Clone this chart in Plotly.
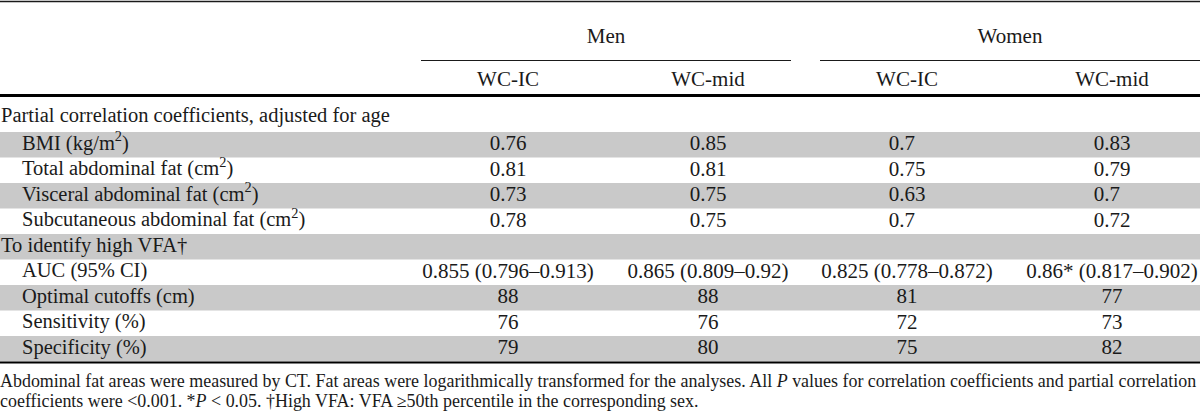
import plotly.graph_objects as go

# table content
groups = ["Men", "Women"]
subcols = ["WC-IC", "WC-mid", "WC-IC", "WC-mid"]

row_labels = [
    "Partial correlation coefficients, adjusted for age",
    "BMI (kg/m<sup>2</sup>)",
    "Total abdominal fat (cm<sup>2</sup>)",
    "Visceral abdominal fat (cm<sup>2</sup>)",
    "Subcutaneous abdominal fat (cm<sup>2</sup>)",
    "To identify high VFA†",
    "AUC (95% CI)",
    "Optimal cutoffs (cm)",
    "Sensitivity (%)",
    "Specificity (%)",
]
is_group = [True, False, False, False, False, True, False, False, False, False]
shaded = [False, True, False, True, False, True, False, True, False, True]

men_ic = ["", "0.76", "0.81", "0.73", "0.78", "", "0.855 (0.796–0.913)", "88", "76", "79"]
men_mid = ["", "0.85", "0.81", "0.75", "0.75", "", "0.865 (0.809–0.92)", "88", "76", "80"]
women_ic = ["", "0.7", "0.75", "0.63", "0.7", "", "0.825 (0.778–0.872)", "81", "72", "75"]
women_mid = ["", "0.83", "0.79", "0.7", "0.72", "", "0.86* (0.817–0.902)", "77", "73", "82"]

footnote = [
    "Abdominal fat areas were measured by CT. Fat areas were logarithmically transformed for the analyses. "
    "All <i>P</i> values for correlation coefficients and partial correlation",
    "coefficients were &lt;0.001. *<i>P</i> &lt; 0.05. †High VFA: VFA ≥50th percentile in the corresponding sex.",
]

W, H = 1200, 419
FONT = "Liberation Serif"
INK = "#1a1a1a"
GRAY = "#c9c9c9"

col_x = [508, 708, 907, 1112]
group_span = [(421, 791), (820, 1200)]
first_row = 132
row_h = 25.5
indent = 22


def pad(v):
    # short decimals sit left-aligned with the two-digit ones
    if len(v) == 3 and v.startswith("0."):
        return v + "\u2007"
    return v


def text_trace(xs, ys, texts, size, pos="middle center"):
    return go.Scatter(x=xs, y=ys, text=texts, mode="text", textposition=pos,
                      textfont=dict(family=FONT, size=size, color=INK), hoverinfo="skip")


fig = go.Figure()

shapes = []
# top rule
shapes.append(dict(type="line", x0=0, x1=W, y0=1.5, y1=1.5, line=dict(color=INK, width=1.5)))
for x0, x1 in group_span:
    shapes.append(dict(type="line", x0=x0, x1=x1, y0=60.5, y1=60.5, line=dict(color=INK, width=1.2)))
shapes.append(dict(type="line", x0=0, x1=W, y0=95.5, y1=95.5, line=dict(color="black", width=3)))

row_y = []
for i, lab in enumerate(row_labels):
    top = first_row + (i - 1) * row_h
    if i == 0:
        row_y.append(117)
    else:
        row_y.append(top + row_h / 2)
    if shaded[i] and i > 0:
        shapes.append(dict(type="rect", x0=0, x1=W, y0=top, y1=top + row_h,
                           fillcolor=GRAY, line=dict(width=0), layer="below"))

bottom = first_row + (len(row_labels) - 1) * row_h
shapes.append(dict(type="line", x0=0, x1=W, y0=bottom + 1, y1=bottom + 1, line=dict(color="black", width=2)))

# header
fig.add_trace(text_trace([(a + b) / 2 for a, b in group_span], [38] * len(groups), groups, 21))
fig.add_trace(text_trace(col_x, [81] * len(subcols), subcols, 21))

# row labels
fig.add_trace(text_trace([1 if g else indent for g in is_group], row_y, row_labels, 20.5, "middle right"))

# values (group rows have none)
for cx, vals in zip(col_x, [men_ic, men_mid, women_ic, women_mid]):
    ys = [y for y, v in zip(row_y, vals) if v]
    txt = [pad(v) for v in vals if v]
    fig.add_trace(text_trace([cx] * len(ys), ys, txt, 21))

# notes under the table
fig.add_trace(text_trace([0] * len(footnote), [bottom + 21 + k * 20 for k in range(len(footnote))],
                         footnote, 17.95, "middle right"))

fig.update_layout(
    width=W, height=H, margin=dict(l=0, r=0, t=0, b=0),
    paper_bgcolor="white", plot_bgcolor="white", showlegend=False,
    xaxis=dict(range=[0, W], visible=False, fixedrange=True),
    yaxis=dict(range=[H, 0], visible=False, fixedrange=True),
    shapes=shapes,
)

# page body has an 8px default margin, drop it so the figure fills the window
fig.write_html("out.html", config={"displayModeBar": False},
               post_script="document.body.style.margin='0';")
